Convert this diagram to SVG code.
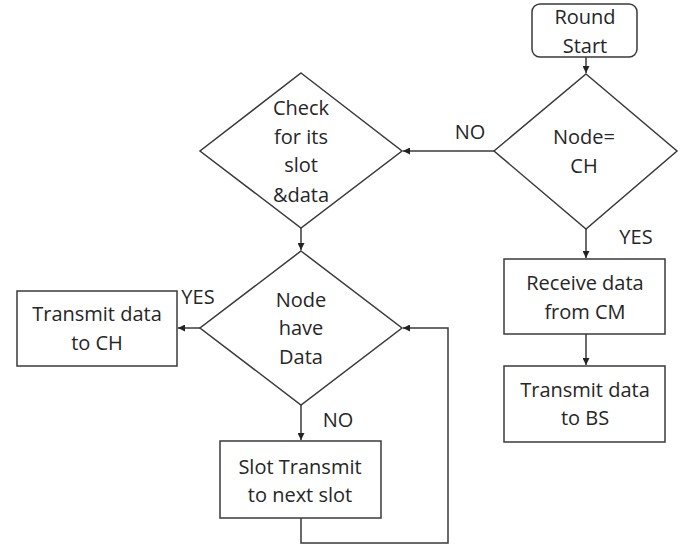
<svg xmlns="http://www.w3.org/2000/svg" width="698" height="547" viewBox="0 0 698 547">
<defs>
<style>
.s{fill:#fff;stroke:#3a3a3a;stroke-width:1.5}
.c{fill:none;stroke:#3a3a3a;stroke-width:1.5}
text{font-family:"Open Sans","Liberation Sans",sans-serif;font-size:20px;fill:#262626;text-anchor:middle}
</style>
<marker id="ah" viewBox="0 0 10 10" refX="10" refY="5" markerWidth="7" markerHeight="7" markerUnits="userSpaceOnUse" orient="auto">
<path d="M0,0 L10,5 L0,10 z" fill="#222"/>
</marker>
</defs>
<rect width="698" height="547" fill="#fff"/>
<g id="connectors">
<path class="c" d="M586,57 V73" marker-end="url(#ah)"/>
<path class="c" d="M494,151 H403" marker-end="url(#ah)"/>
<path class="c" d="M301,228 V250" marker-end="url(#ah)"/>
<path class="c" d="M200,328 H178" marker-end="url(#ah)"/>
<path class="c" d="M301,405 V440" marker-end="url(#ah)"/>
<path class="c" d="M301,518 V543 H448 V328 H403" marker-end="url(#ah)"/>
<path class="c" d="M586,229 V258" marker-end="url(#ah)"/>
<path class="c" d="M586,334 V365" marker-end="url(#ah)"/>
<text x="470" y="139">NO</text>
<text x="198" y="304">YES</text>
<text x="338" y="427">NO</text>
<text x="636" y="244">YES</text>
</g>
<g id="round-start">
<rect class="s" x="532" y="4" width="105" height="53" rx="8"/>
<text x="585" y="24">Round</text>
<text x="585" y="53">Start</text>
</g>
<g id="node-ch">
<polygon class="s" points="586,74 677,151 586,229 494,151"/>
<text x="584" y="144">Node=</text>
<text x="584" y="173">CH</text>
</g>
<g id="check-slot">
<polygon class="s" points="301,73 402,151 301,228 200,151"/>
<text x="301" y="115">Check</text>
<text x="301" y="144">for its</text>
<text x="301" y="172">slot</text>
<text x="301" y="202">&amp;data</text>
</g>
<g id="node-have-data">
<polygon class="s" points="301,251 402,328 301,405 200,328"/>
<text x="301" y="307">Node</text>
<text x="301" y="335">have</text>
<text x="301" y="364">Data</text>
</g>
<g id="transmit-ch">
<rect class="s" x="17" y="291" width="160" height="75"/>
<text x="97" y="321">Transmit data</text>
<text x="97" y="350">to CH</text>
</g>
<g id="slot-transmit">
<rect class="s" x="220" y="441" width="161" height="77"/>
<text x="300" y="474">Slot Transmit</text>
<text x="300" y="502">to next slot</text>
</g>
<g id="receive">
<rect class="s" x="504" y="259" width="161" height="75"/>
<text x="585" y="290">Receive data</text>
<text x="585" y="319">from CM</text>
</g>
<g id="transmit-bs">
<rect class="s" x="504" y="366" width="161" height="76"/>
<text x="585" y="397">Transmit data</text>
<text x="585" y="425">to BS</text>
</g>
</svg>
